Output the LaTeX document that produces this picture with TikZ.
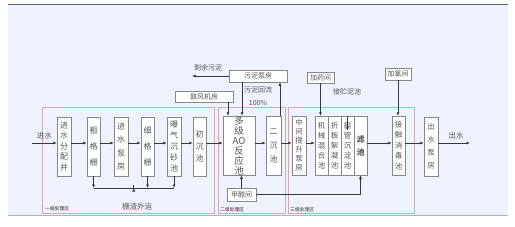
\documentclass[tikz,border=0pt]{standalone}
\usepackage{fontspec}
\setmainfont{Noto Sans CJK SC}
\usetikzlibrary{arrows.meta,calc}
\definecolor{bgc}{RGB}{238,242,252}
\definecolor{pinkb}{RGB}{214,165,175}
\definecolor{boxb}{RGB}{135,135,135}
\definecolor{txt}{RGB}{85,85,85}
\definecolor{lnc}{RGB}{55,55,55}
\begin{document}
\begin{tikzpicture}[x=1pt,y=-1pt,
  vbox/.style={draw=boxb, fill=white, line width=0.5pt, inner sep=0pt, align=center, text=txt, minimum height=59},
  hbox/.style={draw=boxb, fill=white, line width=0.5pt, inner sep=0pt, text=txt, font=\fontsize{7}{8}\selectfont},
  arr/.style={draw=lnc, line width=0.8pt, -{Latex[length=3.5pt,width=3pt]}},
  lnk/.style={draw=lnc, line width=0.8pt},
  zone/.style={draw=pinkb, line width=0.7pt, inner sep=0pt},
  lbl/.style={text=txt, inner sep=0pt, font=\fontsize{7}{8}\selectfont},
  zlbl/.style={text=black!85, inner sep=0pt, anchor=west, font=\fontsize{4.8}{5}\selectfont}]
\useasboundingbox (0,0) rectangle (515,226);
\fill[white] (0,0) rectangle (515,226);
\fill[bgc] (8,4) rectangle (508,215);
\draw[black!60, line width=0.8pt] (8,4) -- (508,4);
\draw[black!30, line width=0.6pt] (8,215) -- (508,215);

% zones
\node[zone, minimum width=172, minimum height=106] (z1) at (128,160) {};
\node[zone, minimum width=67, minimum height=106] (z2) at (251.5,160) {};
\node[zone, minimum width=126, minimum height=106] (z3) at (351,160) {};
\node[zlbl] (z1l) at (45,209) {一级处理区};
\node[zlbl] (z2l) at (220,210) {二级处理区};
\node[zlbl] (z3l) at (290,210) {三级处理区};

% main boxes
\node[vbox, minimum width=14, font=\fontsize{8}{10.5}\selectfont] (b1) at (64,146.5) {进\\水\\分\\配\\井};
\node[vbox, minimum width=13, font=\fontsize{8}{16}\selectfont] (b2) at (93.5,146.5) {粗\\格\\栅};
\node[vbox, minimum width=14, font=\fontsize{8}{13.5}\selectfont] (b3) at (121,146.5) {进\\水\\泵\\房};
\node[vbox, minimum width=13, font=\fontsize{8}{16}\selectfont] (b4) at (147.5,146.5) {细\\格\\栅};
\node[vbox, minimum width=14, font=\fontsize{8}{11}\selectfont] (b5) at (174,146.5) {曝\\气\\沉\\砂\\池};
\node[vbox, minimum width=13, font=\fontsize{8}{12}\selectfont] (b6) at (199.5,146.5) {初\\沉\\池};
\node[vbox, minimum width=32, font=\fontsize{9.5}{10}\selectfont] (b7) at (239,145.5) {多\\级\\AO\\反\\应\\池};
\node[vbox, minimum width=15, font=\fontsize{8}{14}\selectfont] (b8) at (273.5,145.5) {二\\沉\\池};
\node[vbox, minimum width=14, font=\fontsize{7.5}{9}\selectfont] (b9) at (299,145.5) {中\\间\\提\\升\\泵\\房};
\node[vbox, minimum width=13, font=\fontsize{7.5}{10}\selectfont] (b10) at (321.5,145.5) {机\\械\\混\\合\\池};
\node[vbox, minimum width=13, font=\fontsize{7.5}{10}\selectfont] (b11) at (334.5,145.5) {折\\板\\絮\\凝\\池};
\node[vbox, minimum width=13, font=\fontsize{7.5}{10}\selectfont] (b12) at (347.5,145.5) {斜\\管\\沉\\淀\\池};
\node[vbox, minimum width=13, font=\fontsize{8}{13}\selectfont\bfseries] (b13) at (360.5,145.5) {滤\\池};
\node[vbox, minimum width=13, font=\fontsize{7.5}{10.5}\selectfont] (b14) at (398.5,145.5) {接\\触\\消\\毒\\池};
\node[vbox, minimum width=14, font=\fontsize{7.5}{13}\selectfont] (b15) at (431,146.5) {出\\水\\泵\\房};

% auxiliary boxes
\node[hbox, minimum width=58, minimum height=12] (pump) at (258,76) {污泥泵房};
\node[hbox, minimum width=58, minimum height=11] (fan) at (204,96.5) {鼓风机房};
\node[hbox, minimum width=27, minimum height=11] (drug) at (320.5,77.5) {加药间};
\node[hbox, minimum width=26, minimum height=12] (chl) at (398,74) {加氯间};
\node[hbox, minimum width=29, minimum height=13] (meth) at (241.5,194.5) {甲醇间};

% main flow
\coordinate (m) at (0,143);
\coordinate (in) at (32,143);
\coordinate (out) at (470,143);
\node[lbl, font=\fontsize{7.5}{8}\selectfont] (inl) at (44.5,136) {进水};
\node[lbl, font=\fontsize{7.5}{8}\selectfont] (outl) at (456,136) {出水};
\draw[arr] (in) -- (b1.west|-m);
\draw[arr] (b1.east|-m) -- (b2.west|-m);
\draw[arr] (b2.east|-m) -- (b3.west|-m);
\draw[arr] (b3.east|-m) -- (b4.west|-m);
\draw[arr] (b4.east|-m) -- (b5.west|-m);
\draw[arr] (b5.east|-m) -- (b6.west|-m);
\draw[arr] (b6.east|-m) -- (b7.west|-m);
\draw[arr] (b7.east|-m) -- (b8.west|-m);
\draw[arr] (b8.east|-m) -- (b9.west|-m);
\draw[arr] (b9.east|-m) -- (b10.west|-m);
\draw[arr] (b13.east|-m) -- (b14.west|-m);
\draw[arr] (b14.east|-m) -- (b15.west|-m);
\draw[arr] (b15.east|-m) -- (out);

% screenings collection
\coordinate (cy) at (0,188);
\draw[arr] (b2.south) -- (b2.south|-cy);
\draw[arr] (b4.south) -- (b4.south|-cy);
\draw[arr] (b5.south) -- (b5.south|-cy);
\draw[lnk] (b2.south|-cy) -- (b5.south|-cy);
\node[lbl, font=\fontsize{7.5}{8}\selectfont] (waste) at (137,207) {栅渣外运};
\draw[arr] ($(b2.south|-cy)!0.5!(b5.south|-cy)$) -- ($(b2.south|-cy)!0.5!(b5.south|-cy)$ |- waste.north);

% sludge
\coordinate (exs) at (192,76);
\draw[arr] (pump.west) -- (exs);
\node[lbl] (exl) at (208,68) {剩余污泥};
\draw[arr] ([xshift=24]fan.south) -- ([xshift=24]fan.south |- b7.north);
\draw[arr] ([xshift=-16]pump.south) -- ([xshift=-16]pump.south |- b7.north);
\draw[arr] ([xshift=6.5]b8.north) -- ([xshift=6.5]b8.north |- pump.south);
\node[lbl] (retl) at (258,90) {污泥回流};
\node[lbl] (retp) at (258,103) {100\%};

% methanol
\draw[arr] (meth.north) -- (meth.north |- b7.south);
\draw[arr] (meth.east) -| (b13.south);

% chemicals
\draw[arr] (drug.south) -- (drug.south |- b10.north);
\node[lbl] (sl) at (347,92) {接贮泥池};
\draw[arr] (b12.north) -- ([yshift=-15]b12.north);
\draw[arr] (chl.south) -- (chl.south |- b14.north);
\end{tikzpicture}
\end{document}
